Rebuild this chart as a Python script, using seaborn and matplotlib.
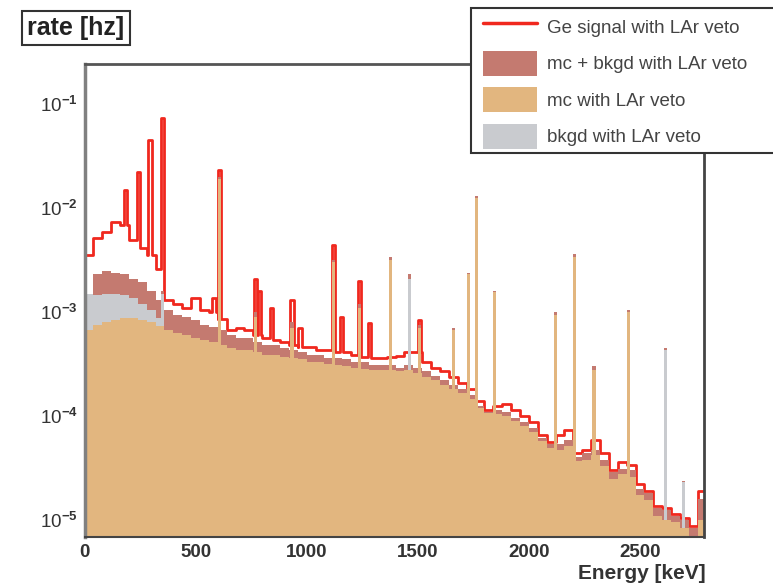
import numpy as np
import pandas as pd
import matplotlib
matplotlib.use("Agg")
import matplotlib.pyplot as plt
import seaborn as sns
from matplotlib.patches import Patch, Rectangle
from matplotlib.lines import Line2D
from matplotlib.ticker import MultipleLocator, LogLocator, NullFormatter

# ---------------- data (rates in Hz, 40 keV continuum bins 0..2800 keV) ----------------
coarse_edges = list(range(0, 2801, 40))

ge_signal = [3.5e-3, 5.2e-3, 5.9e-3, 7.3e-3, 6.8e-3, 4.9e-3, 4.1e-3, 3.5e-3, 2.6e-3, 1.3e-3,
             1.2e-3, 1.1e-3, 1.35e-3, 1.05e-3, 1.0e-3, 8.5e-4, 6.7e-4, 7.0e-4, 6.7e-4, 6.0e-4,
             5.6e-4, 5.4e-4, 5.1e-4, 4.8e-4, 4.6e-4, 4.6e-4, 4.3e-4, 4.3e-4, 4.1e-4, 4.1e-4,
             3.9e-4, 3.7e-4, 3.6e-4, 3.6e-4, 3.7e-4, 3.8e-4, 4.1e-4, 4.1e-4, 3.3e-4, 2.9e-4,
             2.7e-4, 2.35e-4, 2.1e-4, 1.8e-4, 1.4e-4, 1.15e-4, 1.25e-4, 1.3e-4, 1.15e-4, 1.0e-4,
             8.7e-5, 6.6e-5, 5.6e-5, 6.6e-5, 7.3e-5, 4.4e-5, 4.7e-5, 5.9e-5, 4.4e-5, 3.0e-5,
             3.6e-5, 3.4e-5, 2.2e-5, 1.9e-5, 1.35e-5, 1.3e-5, 1.15e-5, 1.05e-5, 8.7e-6, 1.9e-5]

mc_bkgd = [1.45e-3, 2.3e-3, 2.5e-3, 2.4e-3, 2.3e-3, 2.1e-3, 1.95e-3, 1.6e-3, 1.3e-3, 1.05e-3,
           9.4e-4, 9.0e-4, 8.4e-4, 7.5e-4, 7.2e-4, 6.7e-4, 6.0e-4, 5.6e-4, 5.6e-4, 5.1e-4,
           4.8e-4, 4.8e-4, 4.5e-4, 4.3e-4, 4.1e-4, 3.9e-4, 3.9e-4, 3.6e-4, 3.6e-4, 3.5e-4,
           3.3e-4, 3.3e-4, 3.1e-4, 3.1e-4, 3.1e-4, 2.9e-4, 3.1e-4, 2.9e-4, 2.7e-4, 2.45e-4,
           2.2e-4, 2.0e-4, 1.8e-4, 1.6e-4, 1.25e-4, 1.1e-4, 1.15e-4, 1.1e-4, 9.5e-5, 8.7e-5,
           7.6e-5, 6.1e-5, 5.4e-5, 5.4e-5, 5.9e-5, 4.0e-5, 4.4e-5, 4.7e-5, 3.8e-5, 2.9e-5,
           3.1e-5, 3.0e-5, 2.0e-5, 1.8e-5, 1.3e-5, 1.25e-5, 1.1e-5, 1.0e-5, 8.3e-6, 1.6e-5]

mc = [6.7e-4, 7.5e-4, 8.0e-4, 8.4e-4, 8.7e-4, 8.7e-4, 8.4e-4, 8.0e-4, 7.3e-4, 6.7e-4,
      6.3e-4, 6.0e-4, 5.6e-4, 5.4e-4, 5.1e-4, 4.8e-4, 4.5e-4, 4.3e-4, 4.3e-4, 4.1e-4,
      3.9e-4, 3.9e-4, 3.7e-4, 3.6e-4, 3.5e-4, 3.3e-4, 3.3e-4, 3.2e-4, 3.1e-4, 3.05e-4,
      2.9e-4, 2.85e-4, 2.8e-4, 2.8e-4, 2.8e-4, 2.7e-4, 2.75e-4, 2.6e-4, 2.4e-4, 2.2e-4,
      2.0e-4, 1.8e-4, 1.65e-4, 1.45e-4, 1.2e-4, 1.07e-4, 1.05e-4, 1.0e-4, 9.0e-5, 8.0e-5,
      7.0e-5, 5.7e-5, 4.9e-5, 4.7e-5, 5.2e-5, 3.7e-5, 3.8e-5, 4.2e-5, 3.3e-5, 2.5e-5,
      2.8e-5, 2.6e-5, 1.75e-5, 1.55e-5, 1.1e-5, 1.0e-5, 9.5e-6, 8.3e-6, 5.0e-6, 1.0e-5]

bkgd = [1.5e-3, 1.45e-3, 1.5e-3, 1.5e-3, 1.45e-3, 1.35e-3, 1.2e-3, 1.05e-3, 8.7e-4, 6.7e-4,
        5.4e-4, 4.6e-4, 4.0e-4, 3.6e-4, 3.3e-4, 3.0e-4, 2.8e-4, 2.6e-4, 2.5e-4, 2.4e-4,
        2.3e-4, 2.2e-4, 2.1e-4, 2.0e-4, 1.9e-4, 1.8e-4, 1.7e-4, 1.6e-4, 1.5e-4, 1.45e-4,
        1.4e-4, 1.35e-4, 1.3e-4, 1.25e-4, 1.2e-4, 1.15e-4, 1.1e-4, 1.05e-4, 1.0e-4, 9.5e-5,
        9.0e-5, 8.5e-5, 8.0e-5, 7.5e-5, 7.0e-5, 6.5e-5, 6.0e-5, 5.5e-5, 5.0e-5, 4.6e-5,
        4.2e-5, 3.8e-5, 3.4e-5, 3.1e-5, 2.8e-5, 2.5e-5, 2.3e-5, 2.1e-5, 1.9e-5, 1.7e-5,
        1.5e-5, 1.35e-5, 1.2e-5, 1.1e-5, 1.0e-5, 9.0e-6, 8.0e-6, 7.0e-6, 6.0e-6, 5.0e-6]

# gamma lines (keV) and their peak-bin rates (Hz)
ge_peak_energy = [186, 242, 295, 352, 583, 609, 768, 786, 840, 934, 970, 1120, 1155, 1238,
                  1281, 1509]
ge_peak_rate = [1.5e-2, 2.2e-2, 4.5e-2, 7.3e-2, 1.35e-3, 2.3e-2, 2.1e-3, 1.6e-3, 1.1e-3, 1.3e-3,
                7.0e-4, 4.4e-3, 9.0e-4, 2.0e-3, 7.8e-4, 8.4e-4]

mcb_peak_energy = [352, 609, 768, 934, 1120, 1238, 1378, 1461, 1509, 1661, 1730, 1764, 1847,
                   2119, 2204, 2293, 2448, 2615, 2694]
mcb_peak_rate = [1.6e-3, 2.0e-2, 1.0e-3, 8.0e-4, 3.2e-3, 1.2e-3, 3.4e-3, 2.3e-3, 7.5e-4, 7.0e-4,
                 2.4e-3, 1.3e-2, 1.6e-3, 1.0e-3, 3.6e-3, 3.0e-4, 1.05e-3, 4.5e-4, 2.4e-5]

mc_peak_energy = [609, 768, 934, 1120, 1238, 1378, 1509, 1661, 1730, 1764, 1847, 2119, 2204,
                  2293, 2448]
mc_peak_rate = [1.9e-2, 9.0e-4, 7.0e-4, 3.0e-3, 1.1e-3, 3.2e-3, 7.0e-4, 6.7e-4, 2.3e-3, 1.25e-2,
                1.55e-3, 9.4e-4, 3.4e-3, 2.8e-4, 1.0e-3]

bkgd_peak_energy = [352, 1461, 2615, 2694]
bkgd_peak_rate = [1.5e-3, 2.1e-3, 4.3e-4, 2.3e-5]

labels = ["Ge signal with LAr veto", "mc + bkgd with LAr veto", "mc with LAr veto",
          "bkgd with LAr veto"]
x_ticks = [0, 500, 1000, 1500, 2000, 2500]
y_ticks = [1e-5, 1e-4, 1e-3, 1e-2, 1e-1]
y_tick_labels = ["10$^{-5}$", "10$^{-4}$", "10$^{-3}$", "10$^{-2}$", "10$^{-1}$"]

# ---------------- binning: continuum bins split around the line bins ----------------
half_width = 7
all_lines = sorted(set(ge_peak_energy + mcb_peak_energy + mc_peak_energy + bkgd_peak_energy))
line_edges = [e - half_width for e in all_lines] + [e + half_width for e in all_lines]
edges = np.unique(np.concatenate([coarse_edges, line_edges]).astype(float))
centers = 0.5 * (edges[:-1] + edges[1:])
bin_w = coarse_edges[1] - coarse_edges[0]
edge_list = [float(e) for e in edges]


def fine(cont, pk_e, pk_r):
    idx = np.minimum((centers // bin_w).astype(int), len(cont) - 1)
    vals = np.asarray(cont, dtype=float)[idx]
    for e, r in zip(pk_e, pk_r):
        m = (centers > e - half_width) & (centers < e + half_width)
        vals[m] = np.maximum(vals[m], r)
    return vals


df = pd.DataFrame({
    "energy": centers,
    "ge": fine(ge_signal, ge_peak_energy, ge_peak_rate),
    "mcb": fine(mc_bkgd, mcb_peak_energy, mcb_peak_rate),
    "mc": fine(mc, mc_peak_energy, mc_peak_rate),
    "bkgd": fine(bkgd, bkgd_peak_energy, bkgd_peak_rate),
})

# ---------------- style ----------------
sns.set_theme(style="white")
plt.rcParams["font.family"] = ["Liberation Sans", "DejaVu Sans"]
plt.rcParams["mathtext.fontset"] = "custom"
plt.rcParams["mathtext.rm"] = "Liberation Sans:bold"
plt.rcParams["mathtext.it"] = "Liberation Sans:bold"
plt.rcParams["mathtext.bf"] = "Liberation Sans:bold"

RED = "#f0281e"
ROSY = "#c47a70"
TAN = "#e2b67f"
GREY = "#c9cbcf"
TXT = "#333333"

fig = plt.figure(figsize=(7.73, 5.87), dpi=100)
ax = fig.add_axes([84.5 / 773, 50 / 587, 619 / 773, 473 / 587])
ax.set_yscale("log")

sns.histplot(data=df, x="energy", weights="ge", bins=edge_list, element="step", fill=False,
             color=RED, linewidth=2.0, ax=ax, zorder=2)
sns.histplot(data=df, x="energy", weights="mcb", bins=edge_list, element="step", fill=True,
             color=ROSY, alpha=1, linewidth=0, ax=ax, zorder=3)
sns.histplot(data=df, x="energy", weights="bkgd", bins=edge_list, element="step", fill=True,
             color=GREY, alpha=1, linewidth=0, ax=ax, zorder=4)
sns.histplot(data=df, x="energy", weights="mc", bins=edge_list, element="step", fill=True,
             color=TAN, alpha=1, linewidth=0, ax=ax, zorder=5)

ax.set_xlim(0, 2786)
ax.set_ylim(6.87e-6, 0.2427)
ax.set_ylabel("")
ax.set_xticks(x_ticks, labels=[str(t) for t in x_ticks])
ax.xaxis.set_minor_locator(MultipleLocator(100))
ax.set_yticks(y_ticks, labels=y_tick_labels)
ax.yaxis.set_minor_locator(LogLocator(base=10, subs=np.arange(2, 10)))
ax.yaxis.set_minor_formatter(NullFormatter())
ax.tick_params(axis="both", which="major", direction="in", length=9, width=1, color="#555555",
               labelsize=13.5, labelcolor=TXT, pad=5)
ax.tick_params(axis="both", which="minor", direction="in", length=4.5, width=0.8, color="#666666")
for lab in ax.get_xticklabels():
    lab.set_fontweight("bold")
ax.tick_params(top=False, right=False, which="both")

ax.set_xlabel("Energy [keV]", fontsize=15, fontweight="bold", color=TXT, loc="right")
ax.xaxis.label.set_va("center")
ax.xaxis.set_label_coords(1.004, -0.078)

for side, lw, c in [("left", 2.5, "#808080"), ("top", 2.0, "#555555"),
                    ("right", 2.0, "#444444"), ("bottom", 1.5, "#444444")]:
    ax.spines[side].set_visible(True)
    ax.spines[side].set_linewidth(lw)
    ax.spines[side].set_color(c)
    ax.spines[side].set_zorder(10)

# title box
fig.text(76 / 773, 1 - 28 / 587, "rate [hz]", ha="center", va="center", fontsize=18,
         fontweight="bold", color="#222222",
         bbox=dict(boxstyle="square,pad=0.2", fc="white", ec="#333333", lw=1.5))

# legend box (extends past the right edge like the reference)
fig.add_artist(Rectangle((471 / 773, 1 - 153 / 587), 340 / 773, 145 / 587,
                         transform=fig.transFigure, facecolor="white", edgecolor="#333333",
                         lw=1.5, zorder=4, clip_on=False))
handles = [Line2D([0], [0], color=RED, lw=2.5),
           Patch(facecolor=ROSY, edgecolor="none"),
           Patch(facecolor=TAN, edgecolor="none"),
           Patch(facecolor=GREY, edgecolor="none")]
leg = fig.legend(handles, labels, loc="upper left", bbox_to_anchor=(483 / 773, 1 - 14 / 587),
                 bbox_transform=fig.transFigure, frameon=False, fontsize=13.5,
                 handlelength=2.9, handleheight=1.7, labelspacing=0.6, handletextpad=0.5,
                 borderpad=0, borderaxespad=0, labelcolor="#444444")
leg.set_zorder(6)

fig.savefig("out.png", dpi=100)
